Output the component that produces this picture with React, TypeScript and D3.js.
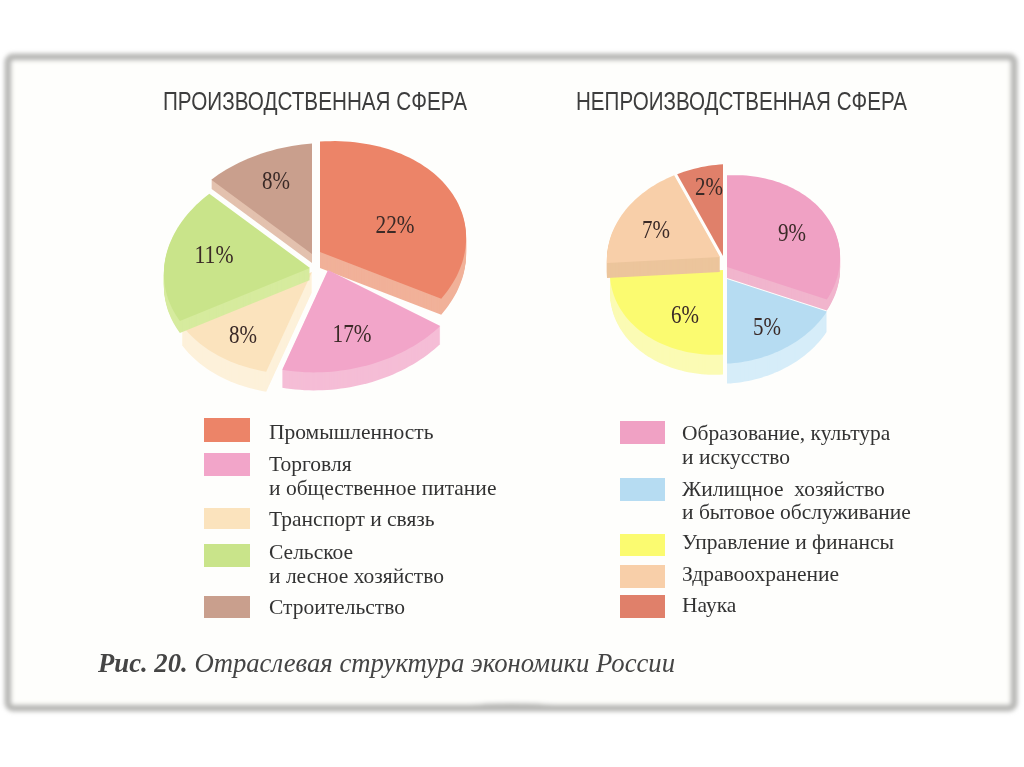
import * as d3 from "d3"

const titles = ["ПРОИЗВОДСТВЕННАЯ СФЕРА", "НЕПРОИЗВОДСТВЕННАЯ СФЕРА"]
const caption = "Отраслевая структура экономики России"

// labelled percentages
const leftValues = [22, 17, 8, 11, 8]
const rightValues = [9, 5, 6, 7, 2]

// sweep of each slice as it is drawn in the picture, in degrees (not quite the labelled share)
const leftSweeps = [122, 77, 46, 73, 42]
const rightSweeps = [116, 64, 90, 67, 23]

const leftLegend = [["Промышленность"], ["Торговля", "и общественное питание"], ["Транспорт и связь"], ["Сельское", "и лесное хозяйство"], ["Строительство"]]
const rightLegend = [["Образование, культура", "и искусство"], ["Жилищное  хозяйство", "и бытовое обслуживание"], ["Управление и финансы"], ["Здравоохранение"], ["Наука"]]

const leftColors = ["#ec8468", "#f2a5c9", "#fbe3bd", "#c9e48a", "#c99f8d"]
const leftSides = ["#f1b199", "#f5bdd6", "#fdf1da", "#d6eb9e", "#e3c1ae"]
const rightColors = ["#f0a1c4", "#b6dcf2", "#fbfb70", "#f8cfa9", "#e0806a"]
const rightSides = ["#f1b5cd", "#d6edf9", "#fbfbb4", "#ecc59c", "#e0806a"]

const leftSwatches = [[204, 418, 46, 24], [204, 453, 46, 23], [204, 508, 46, 21], [204, 544, 46, 23], [204, 596, 46, 22]]
const rightSwatches = [[620, 421, 45, 23], [620, 478, 45, 23], [620, 534, 45, 22], [620, 565, 45, 23], [620, 595, 45, 23]]
const leftLegendY = [[439], [471, 495], [526], [559, 583], [614]]
const rightLegendY = [[440, 464], [496, 519], [549], [581], [612]]

type PieSpec = {
  cx: number
  cy: number
  rx: number
  ry: number
  skew: number
  persp: number
  values: number[]
  sweeps: number[]
  trims: number[]
  colors: string[]
  sides: string[]
  offsets: number[][]
  depths: number[]
  labels: number[][]
}

const pies: PieSpec[] = [
  {
    cx: 320, cy: 252, rx: 146, ry: 106, skew: 10, persp: 0.04,
    values: leftValues, sweeps: leftSweeps, trims: [0, 6, 0, 0, 0], colors: leftColors, sides: leftSides,
    offsets: [[0, 0], [8, 18], [-8, 20], [-10, 16], [-8, 2]],
    depths: [16, 18, 20, 12, 9],
    labels: [[395, 233], [352, 342], [243, 343], [214, 263], [276, 189]],
  },
  {
    cx: 727, cy: 267, rx: 113, ry: 88, skew: 6, persp: 0.04,
    values: rightValues, sweeps: rightSweeps, trims: [0, 0, 0, 0, 0], colors: rightColors, sides: rightSides,
    offsets: [[0, 0], [0, 12], [-4, 3], [-7, -10], [-4, -11]],
    depths: [11, 20, 20, 15, 0],
    labels: [[792, 241], [767, 335], [685, 323], [656, 238], [709, 195]],
  },
]

const lineGen = d3.line<[number, number]>()

const slicePath = (p: PieSpec, a0: number, a1: number) => {
  const project = (t: number): [number, number] => {
    const ux = Math.sin(t)
    const uy = -Math.cos(t)
    const d = 1 + p.persp * uy
    return [(p.rx * ux) / d, (p.ry * uy - p.skew * ux) / d]
  }
  const n = Math.ceil((a1 - a0) * 30)
  const rim = d3.range(n + 1).map(i => project(a0 + ((a1 - a0) * i) / n))
  return lineGen([[0, 0], ...rim]) + "Z"
}

const Pie = ({ p }: { p: PieSpec }) => {
  const arcs = d3.pie<number>().value(d => d).sort(null)(p.sweeps)
  return (
    <g>
      {arcs.map((a, i) => {
        const [dx, dy] = p.offsets[i]
        const d = slicePath(p, a.startAngle + (p.trims[i] * Math.PI) / 180, a.endAngle)
        return (
          <g key={i} transform={`translate(${p.cx + dx},${p.cy + dy})`}>
            {d3.range(p.depths[i], 0, -1).map(k => (
              <path key={k} d={d} transform={`translate(0,${k})`} fill={p.sides[i]} />
            ))}
            <path d={d} fill={p.colors[i]} />
          </g>
        )
      })}
      {p.values.map((v, i) => (
        <text
          key={i}
          x={p.labels[i][0]}
          y={p.labels[i][1]}
          textAnchor="middle"
          fontSize={26}
          fontFamily="Liberation Serif"
          fill="#3a2a28"
          textLength={11 * String(v).length + 17}
          lengthAdjust="spacingAndGlyphs"
        >
          {`${v}%`}
        </text>
      ))}
    </g>
  )
}

const Legend = ({ rows, ys, boxes, colors, x }: { rows: string[][]; ys: number[][]; boxes: number[][]; colors: string[]; x: number }) => (
  <g>
    {rows.map((lines, i) => (
      <g key={i}>
        <rect x={boxes[i][0]} y={boxes[i][1]} width={boxes[i][2]} height={boxes[i][3]} fill={colors[i]} />
        {lines.map((s, j) => (
          <text key={j} x={x} y={ys[i][j]} fontSize={21.5} fontFamily="Liberation Serif" fill="#333" xmlSpace="preserve">
            {s}
          </text>
        ))}
      </g>
    ))}
  </g>
)

export default function App() {
  return (
    <svg width={1024} height={767} style={{ position: "absolute", left: 0, top: 0, background: "#fff" }}>
      <defs>
        <filter id="soft" x="-5%" y="-5%" width="110%" height="110%">
          <feGaussianBlur stdDeviation="2" />
        </filter>
        <filter id="print" x="-5%" y="-5%" width="110%" height="110%">
          <feGaussianBlur stdDeviation="0.6" />
        </filter>
      </defs>
      <g filter="url(#soft)">
        <rect x={8} y={57} width={1006} height={651} rx={5} fill="#fefefc" stroke="#b8b8b6" strokeWidth={7} />
        <ellipse cx={512} cy={707} rx={48} ry={4} fill="#b8b8b6" />
      </g>
      <g filter="url(#print)">
        <text x={163} y={110} fontSize={25} fontFamily="Liberation Sans" fill="#3c3c3c" textLength={304} lengthAdjust="spacingAndGlyphs">{titles[0]}</text>
        <text x={576} y={110} fontSize={25} fontFamily="Liberation Sans" fill="#3c3c3c" textLength={331} lengthAdjust="spacingAndGlyphs">{titles[1]}</text>
        {pies.map((p, i) => <Pie key={i} p={p} />)}
        <Legend rows={leftLegend} ys={leftLegendY} boxes={leftSwatches} colors={leftColors} x={269} />
        <Legend rows={rightLegend} ys={rightLegendY} boxes={rightSwatches} colors={rightColors} x={682} />
        <text x={98} y={672} fontSize={26.7} fontFamily="Liberation Serif" fontStyle="italic" fill="#444">
          <tspan fontWeight="bold">Рис. 20.</tspan> {caption}
        </text>
      </g>
    </svg>
  )
}
